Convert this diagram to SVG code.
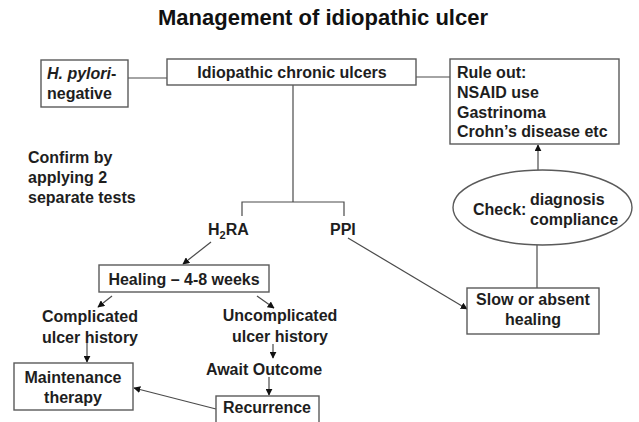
<svg xmlns="http://www.w3.org/2000/svg" width="639" height="422" viewBox="0 0 639 422">
<defs>
<style>
text{font-family:"Liberation Sans",Arial,sans-serif;font-weight:bold;font-size:16px;fill:#1e1e1e}
.t{font-size:22px;fill:#111}
.m{text-anchor:middle}
.box{fill:#fff;stroke:#5a5a5a;stroke-width:1.4}
.ln{fill:none;stroke:#4a4a4a;stroke-width:1.2}
</style>
<marker id="ah" viewBox="0 0 10 10" refX="9" refY="5" markerWidth="7" markerHeight="7" orient="auto" markerUnits="userSpaceOnUse">
<path d="M0,0 L10,5 L0,10 z" fill="#111"/>
</marker>
</defs>
<rect width="639" height="422" fill="#fff"/>
<text class="t m" x="323" y="25">Management of idiopathic ulcer</text>

<g id="connectors">
<line class="ln" x1="128" y1="78" x2="167" y2="78"/>
<line class="ln" x1="416" y1="77" x2="450" y2="77"/>
<polyline class="ln" points="293,85 293,202"/>
<polyline class="ln" points="242,216 242,202 344,202 344,216"/>
<line class="ln" x1="538" y1="170" x2="538" y2="145" marker-end="url(#ah)"/>
<line class="ln" x1="537" y1="245" x2="537" y2="288"/>
<line class="ln" x1="348" y1="238" x2="467" y2="309" marker-end="url(#ah)"/>
<line class="ln" x1="211" y1="242" x2="183" y2="264" marker-end="url(#ah)"/>
<line class="ln" x1="112" y1="296" x2="98" y2="307" marker-end="url(#ah)"/>
<line class="ln" x1="257" y1="296" x2="274" y2="308" marker-end="url(#ah)"/>
<line class="ln" x1="87" y1="343" x2="87" y2="362" marker-end="url(#ah)"/>
<line class="ln" x1="273" y1="344" x2="273" y2="358" marker-end="url(#ah)"/>
<line class="ln" x1="269" y1="377" x2="269" y2="395" marker-end="url(#ah)"/>
<line class="ln" x1="216" y1="409" x2="134" y2="388" marker-end="url(#ah)"/>
</g>

<g id="hpylori">
<rect class="box" x="41" y="60" width="87" height="47"/>
<text x="47" y="79"><tspan font-style="italic">H. pylori</tspan>-</text>
<text x="47" y="99">negative</text>
</g>

<g id="idiopathic">
<rect class="box" x="167" y="59" width="249" height="26"/>
<text class="m" x="292" y="78">Idiopathic chronic ulcers</text>
</g>

<g id="ruleout">
<rect class="box" x="450" y="59" width="169" height="85"/>
<text x="457" y="78">Rule out:</text>
<text x="457" y="98">NSAID use</text>
<text x="457" y="118">Gastrinoma</text>
<text x="457" y="137">Crohn’s disease etc</text>
</g>

<g id="confirm">
<text x="28" y="163">Confirm by</text>
<text x="28" y="183">applying 2</text>
<text x="28" y="203">separate tests</text>
</g>

<g id="check">
<ellipse cx="542.5" cy="207.5" rx="89.5" ry="37.5" fill="#fff" stroke="#5a5a5a" stroke-width="1.4"/>
<text x="473" y="215">Check:</text>
<text x="530" y="205">diagnosis</text>
<text x="530" y="225">compliance</text>
</g>

<g id="h2ra">
<text x="208" y="235">H<tspan font-size="11" dy="4">2</tspan><tspan dy="-4">RA</tspan></text>
</g>

<g id="ppi">
<text x="330" y="235">PPI</text>
</g>

<g id="slow">
<rect class="box" x="467" y="288" width="132" height="46"/>
<text class="m" x="533" y="305">Slow or absent</text>
<text class="m" x="533" y="325">healing</text>
</g>

<g id="healing">
<rect class="box" x="99" y="265" width="170" height="27"/>
<text class="m" x="184" y="285">Healing – 4-8 weeks</text>
</g>

<g id="complicated">
<text class="m" x="90" y="322">Complicated</text>
<text class="m" x="90" y="343">ulcer history</text>
</g>

<g id="uncomplicated">
<text class="m" x="280" y="321">Uncomplicated</text>
<text class="m" x="280" y="342">ulcer history</text>
</g>

<g id="await">
<text class="m" x="264" y="375">Await Outcome</text>
</g>

<g id="maintenance">
<rect class="box" x="14" y="363" width="119" height="47"/>
<text class="m" x="73" y="383">Maintenance</text>
<text class="m" x="73" y="403">therapy</text>
</g>

<g id="recurrence">
<rect class="box" x="216" y="396" width="103" height="30"/>
<text class="m" x="267" y="413">Recurrence</text>
</g>
</svg>
